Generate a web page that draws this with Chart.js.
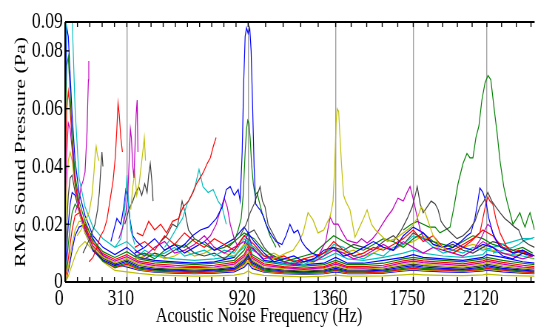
<!DOCTYPE html>
<html>
<head>
<meta charset="utf-8">
<script src="https://cdn.jsdelivr.net/npm/chart.js@4/dist/chart.umd.min.js"></script>
<style>
  html, body { margin: 0; padding: 0; background: #fff; overflow: hidden; }
  #wrap { position: absolute; left: 0; top: 0; width: 723px; height: 327px; transform: scaleX(0.74); transform-origin: 0 0; }
</style>
</head>
<body>
<div id="wrap"><canvas id="c"></canvas></div>
<script>
const FONT = '"Liberation Serif", "Times New Roman", serif';
const C = { b: "#0000ff", g: "#008000", r: "#ff0000", c: "#00bfbf", m: "#bf00bf", y: "#bfbf00", k: "#404040" };

const X_MAJOR = [0, 310, 920, 1360, 1750, 2120];
const X_MINOR = [62, 124, 186, 248, 371, 432, 493, 554, 615, 676, 737, 798, 859,
  1008, 1096, 1184, 1272, 1438, 1516, 1594, 1672, 1824, 1898, 1972, 2046, 2194, 2268, 2342];
const Y_TICKS = [0, 0.02, 0.04, 0.06, 0.08, 0.09];
const X_TITLE = "Acoustic Noise Frequency (Hz)";
const Y_TITLE = "RMS Sound Pressure (Pa)";

// background spectra, shared frequency grid (Hz)
const F_BULK = [0,8,16,25,35,50,70,100,140,190,250,310,370,450,550,650,750,850,900,920,940,1000,1100,1200,1300,1360,1420,1500,1600,1700,1750,1800,1900,2000,2100,2120,2200,2300,2360];
const S1 = [0.07,0.1,0.1,0.1,0.092,0.06,0.036,0.026,0.019,0.015,0.012,0.014,0.010,0.009,0.008,0.0075,0.008,0.009,0.012,0.015,0.011,0.009,0.008,0.007,0.008,0.010,0.008,0.0075,0.0085,0.010,0.011,0.010,0.009,0.0085,0.0095,0.011,0.010,0.009,0.008];
const S2 = [0.06,0.088,0.085,0.072,0.058,0.042,0.031,0.023,0.016,0.012,0.0095,0.012,0.0085,0.0075,0.007,0.0065,0.007,0.0085,0.013,0.017,0.012,0.0075,0.0065,0.006,0.0065,0.0085,0.0065,0.0065,0.0075,0.0085,0.0095,0.0085,0.008,0.0075,0.0085,0.0095,0.0085,0.007,0.0065];
const S3 = [0.05,0.075,0.078,0.066,0.051,0.037,0.028,0.021,0.0145,0.0105,0.0085,0.0105,0.008,0.007,0.0065,0.006,0.0065,0.0075,0.011,0.014,0.0095,0.007,0.006,0.0055,0.006,0.0075,0.006,0.006,0.0065,0.008,0.0085,0.008,0.0075,0.007,0.008,0.0085,0.0075,0.0065,0.006];
const S4 = [0.035,0.06,0.066,0.06,0.049,0.035,0.026,0.019,0.0135,0.0098,0.0078,0.0095,0.0072,0.0063,0.0058,0.0053,0.0058,0.0068,0.0095,0.0125,0.0088,0.0063,0.0053,0.0048,0.0053,0.0068,0.0053,0.0053,0.0058,0.0073,0.0078,0.0073,0.0068,0.0063,0.0073,0.0078,0.0068,0.0058,0.0053];
const S5 = [0.025,0.045,0.055,0.053,0.046,0.034,0.025,0.018,0.0125,0.0092,0.0072,0.0088,0.0067,0.0057,0.0052,0.005,0.0052,0.0062,0.0088,0.0115,0.0082,0.0057,0.005,0.0044,0.005,0.0062,0.005,0.0048,0.0052,0.0067,0.0072,0.0067,0.0062,0.0057,0.0067,0.0072,0.0062,0.0052,0.0048];
const S6 = [0.015,0.032,0.042,0.045,0.042,0.033,0.024,0.017,0.0118,0.0087,0.0067,0.0082,0.0062,0.0052,0.0048,0.0046,0.0048,0.0057,0.0082,0.0105,0.0077,0.0052,0.0046,0.0041,0.0046,0.0057,0.0046,0.0045,0.0049,0.0062,0.0067,0.0062,0.0057,0.0052,0.0062,0.0067,0.0057,0.0049,0.0045];
const S7 = [0.008,0.02,0.03,0.036,0.037,0.031,0.024,0.017,0.0112,0.0082,0.0062,0.0077,0.0057,0.0048,0.0044,0.0041,0.0044,0.0052,0.0077,0.0098,0.0072,0.0048,0.0041,0.0038,0.0041,0.0052,0.0041,0.0041,0.0045,0.0057,0.0062,0.0057,0.0052,0.0048,0.0057,0.0062,0.0052,0.0045,0.0041];
const S8 = [0.004,0.012,0.02,0.027,0.031,0.03,0.025,0.018,0.0108,0.0077,0.0057,0.0072,0.0052,0.0044,0.0041,0.0038,0.0041,0.0047,0.0072,0.0092,0.0067,0.0045,0.0038,0.0035,0.0038,0.0047,0.0038,0.0038,0.0041,0.0052,0.0057,0.0052,0.0047,0.0044,0.0052,0.0057,0.0047,0.0041,0.0038];
const S9 = [0.002,0.007,0.013,0.019,0.024,0.027,0.025,0.019,0.0112,0.0072,0.0052,0.0067,0.0048,0.0041,0.0038,0.0035,0.0038,0.0044,0.0067,0.0087,0.0062,0.0041,0.0035,0.0032,0.0035,0.0044,0.0035,0.0035,0.0038,0.0047,0.0052,0.0047,0.0044,0.0041,0.0047,0.0052,0.0044,0.0038,0.0035];
const S10 = [0.001,0.004,0.008,0.013,0.018,0.023,0.024,0.02,0.012,0.0074,0.0049,0.0062,0.0045,0.0038,0.0035,0.0032,0.0035,0.0041,0.0062,0.0082,0.0057,0.0038,0.0032,0.003,0.0032,0.0041,0.0032,0.0032,0.0035,0.0044,0.0047,0.0044,0.0041,0.0038,0.0044,0.0047,0.0041,0.0035,0.0032];
const S11 = [0,0.002,0.005,0.009,0.013,0.018,0.021,0.021,0.014,0.0085,0.0056,0.0057,0.0043,0.0036,0.0033,0.0031,0.0033,0.0038,0.0056,0.0072,0.0051,0.0036,0.0031,0.0028,0.0031,0.0038,0.0031,0.0031,0.0033,0.0041,0.0044,0.0041,0.0038,0.0036,0.0041,0.0044,0.0038,0.0033,0.0031];
const S12 = [0,0.0015,0.004,0.007,0.011,0.016,0.019,0.02,0.015,0.0092,0.0061,0.0052,0.0041,0.0034,0.0031,0.0029,0.0031,0.0035,0.0051,0.0066,0.0047,0.0034,0.0029,0.0026,0.0029,0.0035,0.0029,0.0029,0.0031,0.0038,0.0041,0.0038,0.0035,0.0033,0.0038,0.0041,0.0035,0.0031,0.0029];
const S13 = [0,0.001,0.002,0.004,0.006,0.009,0.012,0.014,0.011,0.007,0.004,0.0035,0.003,0.0025,0.0022,0.002,0.0021,0.0024,0.003,0.0038,0.003,0.0023,0.002,0.0018,0.002,0.0024,0.002,0.002,0.0021,0.0025,0.0027,0.0025,0.0023,0.0022,0.0025,0.0027,0.0023,0.0021,0.002];

// mid-level noisy spectra
const F_MID = [350,400,450,500,550,600,650,700,750,800,850,900,950,1000,1050,1100,1150,1200,1250,1300,1350,1400,1450,1500,1550,1600,1650,1700,1750,1800,1850,1900,1950,2000,2050,2100,2150,2200,2250,2300,2350];
const M1 = [0.012,0.014,0.011,0.016,0.013,0.017,0.014,0.012,0.015,0.013,0.011,0.016,0.013,0.009,0.008,0.009,0.007,0.008,0.009,0.010,0.014,0.011,0.009,0.010,0.012,0.011,0.013,0.015,0.018,0.014,0.016,0.012,0.011,0.013,0.015,0.018,0.016,0.012,0.010,0.011,0.009];
const M2 = [0.010,0.012,0.015,0.011,0.013,0.010,0.012,0.014,0.011,0.013,0.015,0.019,0.014,0.010,0.007,0.008,0.009,0.007,0.008,0.011,0.012,0.009,0.010,0.012,0.014,0.012,0.011,0.016,0.019,0.017,0.013,0.012,0.014,0.012,0.011,0.013,0.012,0.009,0.008,0.010,0.009];
const M3 = [0.009,0.010,0.008,0.011,0.013,0.012,0.015,0.013,0.011,0.012,0.014,0.017,0.015,0.011,0.009,0.007,0.008,0.009,0.010,0.013,0.016,0.014,0.012,0.011,0.013,0.015,0.014,0.012,0.015,0.017,0.014,0.013,0.012,0.014,0.016,0.015,0.013,0.012,0.011,0.012,0.010];
const M4 = [0.011,0.009,0.012,0.014,0.010,0.011,0.013,0.016,0.012,0.010,0.012,0.014,0.011,0.008,0.009,0.007,0.006,0.008,0.007,0.009,0.011,0.010,0.008,0.009,0.011,0.013,0.011,0.014,0.012,0.010,0.012,0.011,0.010,0.009,0.011,0.014,0.012,0.010,0.009,0.008,0.009];
const M5 = [0.008,0.011,0.009,0.010,0.012,0.009,0.010,0.011,0.009,0.011,0.010,0.015,0.012,0.009,0.007,0.006,0.007,0.006,0.008,0.009,0.013,0.012,0.009,0.008,0.010,0.009,0.012,0.013,0.016,0.015,0.012,0.010,0.011,0.010,0.012,0.011,0.012,0.013,0.014,0.015,0.015];
const M6 = [0.009,0.008,0.010,0.009,0.011,0.013,0.010,0.009,0.010,0.008,0.011,0.016,0.018,0.012,0.008,0.007,0.006,0.007,0.008,0.010,0.012,0.011,0.013,0.012,0.011,0.014,0.016,0.013,0.017,0.015,0.014,0.012,0.013,0.011,0.010,0.012,0.014,0.013,0.011,0.010,0.009];
const M7 = [0.008,0.009,0.010,0.008,0.009,0.011,0.009,0.010,0.012,0.010,0.009,0.013,0.012,0.009,0.010,0.008,0.007,0.006,0.007,0.009,0.012,0.010,0.011,0.009,0.010,0.012,0.011,0.013,0.014,0.016,0.013,0.011,0.010,0.012,0.013,0.012,0.011,0.010,0.009,0.010,0.008];

// individual peaks
const BLUE920_F = [560,600,640,680,720,760,790,810,830,850,870,880,890,898,905,912,920,928,935,942,950,958,968,980,995,1010,1030,1060,1090,1110,1130,1150,1170,1190,1210,1240,1280];
const BLUE920_Y = [0.011,0.013,0.016,0.018,0.019,0.022,0.026,0.032,0.033,0.03,0.032,0.028,0.045,0.07,0.085,0.088,0.086,0.088,0.08,0.062,0.04,0.027,0.026,0.025,0.023,0.02,0.017,0.014,0.013,0.016,0.02,0.017,0.018,0.014,0.012,0.01,0.009];
const GREEN920_F = [820,850,870,885,895,905,912,918,924,930,938,946,955,965,975,990,1010,1030,1060];
const GREEN920_Y = [0.012,0.014,0.018,0.022,0.03,0.045,0.053,0.056,0.055,0.05,0.04,0.034,0.03,0.031,0.028,0.024,0.02,0.016,0.012];
const GRAY960_F = [880,910,930,950,965,980,992,1005,1020,1050,1080];
const GRAY960_Y = [0.016,0.02,0.024,0.027,0.03,0.033,0.028,0.026,0.02,0.016,0.012];
const YEL1360_F = [1040,1080,1110,1146,1175,1196,1221,1246,1271,1300,1320,1332,1347,1355,1362,1368,1375,1382,1390,1400,1410,1432,1457,1480,1500,1518,1540,1560,1590,1620,1660,1700,1740,1770,1790,1810,1830,1850,1880,1920];
const YEL1360_Y = [0.008,0.009,0.010,0.011,0.014,0.017,0.024,0.0215,0.017,0.018,0.021,0.0225,0.028,0.04,0.055,0.06,0.059,0.05,0.04,0.03,0.028,0.025,0.0155,0.019,0.022,0.025,0.02,0.018,0.016,0.014,0.015,0.017,0.019,0.022,0.026,0.024,0.02,0.016,0.013,0.011];
const MAG1500_F = [1280,1310,1332,1350,1372,1395,1417,1440,1467,1490,1518,1545,1568,1595,1618,1645,1673,1700,1719,1734,1749,1765,1785,1810];
const MAG1500_Y = [0.01,0.014,0.0225,0.02,0.02,0.017,0.0145,0.014,0.0135,0.015,0.0135,0.015,0.017,0.02,0.0225,0.025,0.029,0.028,0.031,0.033,0.029,0.024,0.018,0.014];
const GRAY1750_F = [1650,1690,1720,1745,1760,1770,1785,1800,1820,1840,1860,1875,1890,1910,1940,1970,2000,2030,2060,2085,2105,2125,2145,2165,2186,2210,2236,2260,2280,2300,2330,2360];
const GRAY1750_Y = [0.014,0.018,0.022,0.026,0.03,0.033,0.027,0.024,0.026,0.028,0.027,0.025,0.021,0.019,0.017,0.015,0.016,0.018,0.021,0.026,0.028,0.031,0.028,0.026,0.024,0.022,0.0205,0.019,0.018,0.0145,0.013,0.012];
const GREEN2120_F = [1700,1740,1770,1800,1830,1860,1884,1910,1935,1955,1975,2000,2020,2035,2050,2065,2080,2095,2111,2126,2140,2150,2160,2171,2186,2205,2221,2240,2251,2270,2286,2300,2312,2325,2337,2360];
const GREEN2120_Y = [0.018,0.02,0.021,0.02,0.019,0.019,0.017,0.018,0.019,0.026,0.034,0.041,0.0445,0.043,0.043,0.05,0.054,0.063,0.069,0.0715,0.07,0.064,0.058,0.052,0.042,0.033,0.028,0.023,0.020,0.022,0.024,0.021,0.019,0.022,0.024,0.018];
const BLUE2100_F = [1900,1950,1990,2020,2040,2060,2075,2085,2100,2115,2130,2150,2170,2190,2220,2260,2300,2360];
const BLUE2100_Y = [0.011,0.012,0.014,0.016,0.017,0.022,0.028,0.0325,0.031,0.028,0.022,0.017,0.014,0.012,0.011,0.01,0.011,0.009];
const RED2130_F = [1950,2000,2040,2070,2085,2100,2115,2125,2135,2150,2165,2186,2200,2221,2250,2280,2320,2360];
const RED2130_Y = [0.01,0.012,0.014,0.016,0.017,0.022,0.027,0.0295,0.028,0.027,0.022,0.017,0.015,0.012,0.010,0.011,0.010,0.009];
const CYANR_F = [2150,2200,2250,2280,2310,2340,2360];
const CYANR_Y = [0.010,0.011,0.012,0.013,0.0145,0.015,0.0155];
const MAG2120_F = [2060,2090,2110,2125,2140,2160,2190];
const MAG2120_Y = [0.012,0.015,0.018,0.02,0.019,0.015,0.012];
const MAGLO1_F = [50,70,80,90,100,105,110,114,117,119];
const MAGLO1_Y = [0.024,0.028,0.033,0.035,0.038,0.045,0.052,0.063,0.07,0.0765];
const YELLO1_F = [60,80,100,120,135,145,152,156,162,170];
const YELLO1_Y = [0.016,0.018,0.021,0.024,0.03,0.038,0.045,0.047,0.044,0.042];
const GRAYLO1_F = [90,110,130,150,163,172,180,185,190];
const GRAYLO1_Y = [0.01,0.013,0.016,0.02,0.025,0.031,0.04,0.045,0.04];
const REDLO1_F = [120,140,160,175,195,210,225,241,252,260,266,272,280,288];
const REDLO1_Y = [0.007,0.0085,0.012,0.0155,0.018,0.0215,0.028,0.035,0.043,0.053,0.062,0.058,0.05,0.045];
const MAGLO2_F = [270,290,305,315,322,328,333,340,346,352,357,362,366];
const MAGLO2_Y = [0.015,0.019,0.024,0.03,0.042,0.053,0.05,0.04,0.036,0.048,0.058,0.063,0.045];
const YELLO2_F = [330,340,350,360,372,382,392,398,404];
const YELLO2_Y = [0.025,0.033,0.038,0.03,0.034,0.04,0.046,0.05,0.042];
const GRAYLO2_F = [300,320,340,355,370,385,400,412,420,428,436,442];
const GRAYLO2_Y = [0.02,0.025,0.028,0.031,0.033,0.03,0.034,0.031,0.037,0.041,0.035,0.028];
const CYAN310_F = [250,280,295,305,311,318,330,350];
const CYAN310_Y = [0.012,0.015,0.022,0.03,0.037,0.028,0.018,0.013];
const BLUE310_F = [230,260,280,295,305,315,325,340,360,390];
const BLUE310_Y = [0.014,0.022,0.02,0.026,0.032,0.03,0.022,0.016,0.014,0.012];
const RED600_F = [360,390,420,450,480,510,540,570,593,620,643,660,678,695,714,730,745,759];
const RED600_Y = [0.017,0.016,0.021,0.018,0.02,0.017,0.021,0.022,0.026,0.028,0.031,0.034,0.036,0.038,0.041,0.043,0.047,0.05];
const CYAN650_F = [500,530,563,590,613,635,653,673,693,719,744,769,789,810];
const CYAN650_Y = [0.012,0.015,0.019,0.022,0.027,0.03,0.033,0.039,0.033,0.031,0.032,0.028,0.026,0.02];
const GRAY560_F = [480,510,540,563,578,588,603,620,650];
const GRAY560_Y = [0.014,0.016,0.02,0.019,0.024,0.028,0.024,0.018,0.015];
const MAG800_F = [700,730,760,785,800,815,830,850,870];
const MAG800_Y = [0.014,0.016,0.02,0.026,0.029,0.026,0.02,0.015,0.012];

const peaks = [
  [BLUE920_F, BLUE920_Y, C.b], [GREEN920_F, GREEN920_Y, C.g], [GRAY960_F, GRAY960_Y, C.k],
  [YEL1360_F, YEL1360_Y, C.y], [MAG1500_F, MAG1500_Y, C.m], [GRAY1750_F, GRAY1750_Y, C.k],
  [GREEN2120_F, GREEN2120_Y, C.g], [BLUE2100_F, BLUE2100_Y, C.b], [RED2130_F, RED2130_Y, C.r],
  [CYANR_F, CYANR_Y, C.c], [MAG2120_F, MAG2120_Y, C.m],
  [MAGLO1_F, MAGLO1_Y, C.m], [YELLO1_F, YELLO1_Y, C.y], [GRAYLO1_F, GRAYLO1_Y, C.k],
  [REDLO1_F, REDLO1_Y, C.r], [MAGLO2_F, MAGLO2_Y, C.m], [YELLO2_F, YELLO2_Y, C.y],
  [GRAYLO2_F, GRAYLO2_Y, C.k], [CYAN310_F, CYAN310_Y, C.c], [BLUE310_F, BLUE310_Y, C.b],
  [RED600_F, RED600_Y, C.r], [CYAN650_F, CYAN650_Y, C.c], [GRAY560_F, GRAY560_Y, C.k],
  [MAG800_F, MAG800_Y, C.m],
];
const mids = [[M1, C.r], [M2, C.b], [M3, C.g], [M4, C.m], [M5, C.c], [M6, C.k], [M7, C.y]];
const bulk = [[S1, C.c], [S2, C.b], [S3, C.g], [S4, C.r], [S5, C.m], [S6, C.y], [S7, C.k],
  [S8, C.b], [S9, C.g], [S10, C.r], [S11, C.y], [S12, C.b], [S13, C.y]];

function line(xs, ys, color) {
  return {
    data: xs.map((x, i) => ({ x: x, y: ys[i] })),
    borderColor: color, borderWidth: 1.2, pointRadius: 0, fill: false, tension: 0,
  };
}

const datasets = [
  ...peaks.map(([xs, ys, col]) => line(xs, ys, col)),
  ...mids.map(([ys, col]) => line(F_MID, ys, col)),
  ...bulk.map(([ys, col]) => line(F_BULK, ys, col)),
];

const frame = {
  id: "frame",
  afterDatasetsDraw(chart) {
    const { ctx, chartArea: a, scales: { x, y } } = chart;
    const seg = (x1, y1, x2, y2) => { ctx.beginPath(); ctx.moveTo(x1, y1); ctx.lineTo(x2, y2); ctx.stroke(); };
    ctx.save();
    ctx.strokeStyle = "#000";
    ctx.lineWidth = 1.4;
    X_MINOR.concat(X_MAJOR).forEach((v) => {
      const px = x.getPixelForValue(v);
      seg(px, a.top, px, a.top + 5);
      seg(px, a.bottom, px, a.bottom - 5);
    });
    Y_TICKS.forEach((v) => {
      const py = y.getPixelForValue(v);
      seg(a.left, py, a.left + 6, py);
    });
    ctx.lineWidth = 2;
    seg(a.left, a.top, a.right, a.top);
    seg(a.left, a.bottom, a.right, a.bottom);
    seg(a.left, a.top, a.left, a.bottom);
    ctx.fillStyle = "#000";
    ctx.font = "22px " + FONT;
    ctx.textAlign = "center";
    ctx.textBaseline = "alphabetic";
    ctx.fillText(X_TITLE, 350, 322);
    ctx.restore();
  },
};

new Chart(document.getElementById("c"), {
  type: "line",
  data: { datasets },
  options: {
    responsive: true, maintainAspectRatio: false, animation: false,
    layout: { padding: { top: 22, right: 0, left: 0, bottom: 0 } },
    plugins: { legend: { display: false }, tooltip: { enabled: false } },
    scales: {
      x: {
        type: "linear", min: 0, max: 2360,
        afterBuildTicks: (s) => { s.ticks = X_MAJOR.map((v) => ({ value: v })); },
        afterFit: (s) => { s.height = 45; },
        border: { display: false },
        grid: { drawTicks: false, lineWidth: 1.4, color: (c) => (c.tick && c.tick.value === 0 ? "rgba(0,0,0,0)" : "#a0a0a0") },
        ticks: {
          autoSkip: false, maxRotation: 0, padding: 2, labelOffset: -8, color: "#000",
          font: { family: FONT, size: 24 },
          callback: (v) => String(v),
        },
      },
      y: {
        min: 0, max: 0.09,
        afterBuildTicks: (s) => { s.ticks = Y_TICKS.map((v) => ({ value: v })); },
        afterFit: (s) => { s.width = 88; },
        border: { display: false },
        grid: { display: false, drawTicks: false },
        ticks: {
          autoSkip: false, padding: 3, color: "#000", font: { family: FONT, size: 24 },
          callback: (v) => (v === 0 ? "0" : v.toFixed(2)),
        },
        title: { display: true, text: Y_TITLE, color: "#000", font: { family: FONT, size: 22 }, padding: { top: 15, bottom: 0 } },
      },
    },
  },
  plugins: [frame],
});
</script>
</body>
</html>
